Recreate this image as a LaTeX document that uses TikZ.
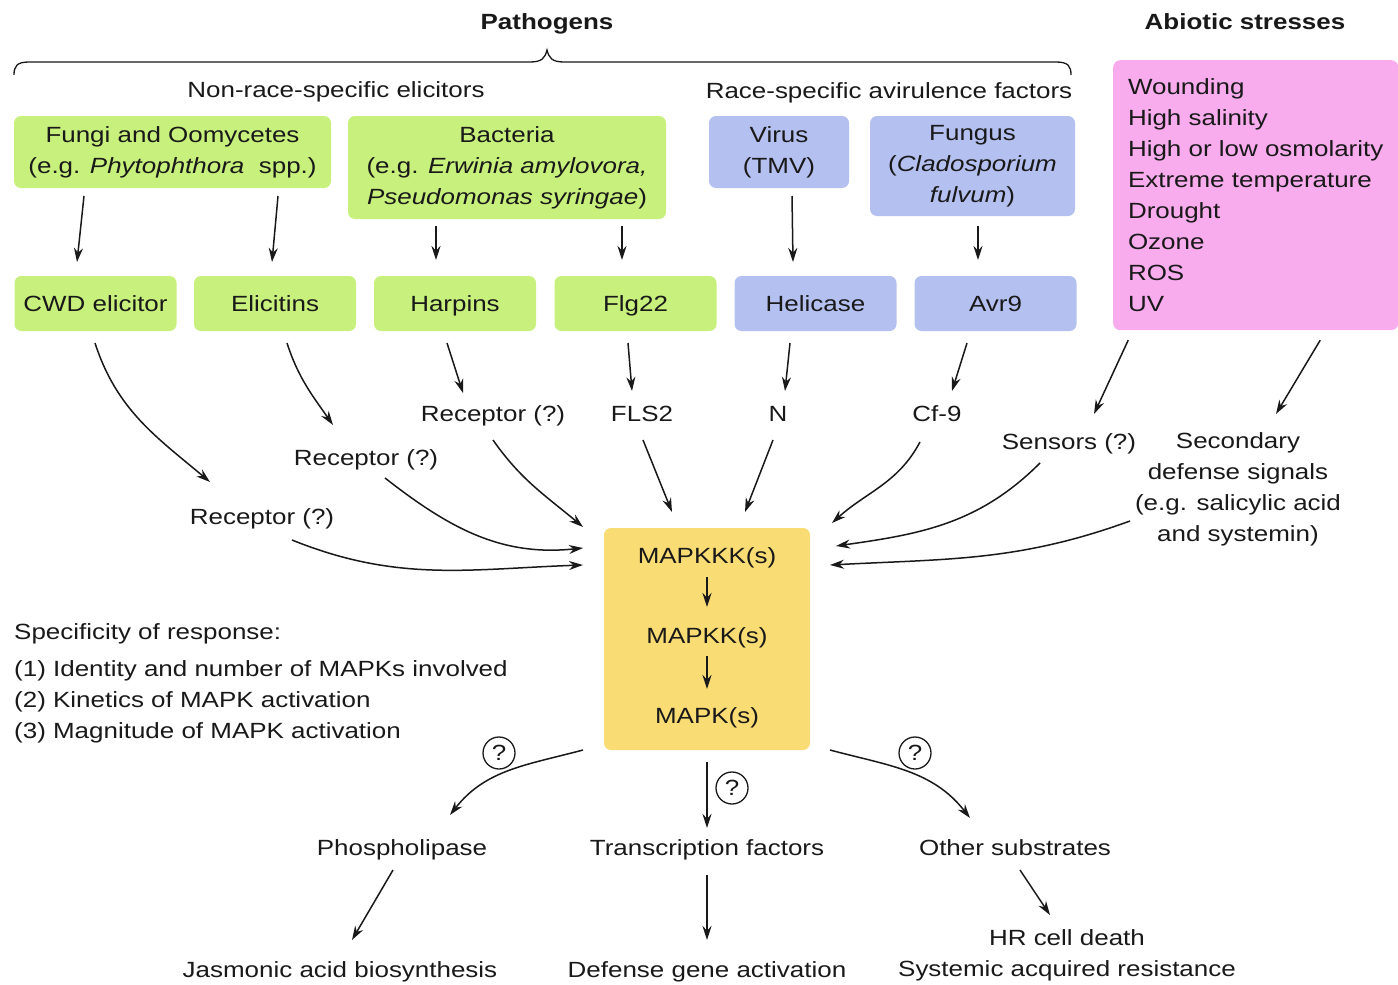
\documentclass[tikz,border=0pt]{standalone}
\usepackage{fontspec}
\setmainfont[FakeStretch=1.18]{Liberation Sans}
\usetikzlibrary{arrows.meta}
\definecolor{gcol}{RGB}{200,240,124}
\definecolor{bcol}{RGB}{180,192,240}
\definecolor{pcol}{RGB}{248,172,238}
\definecolor{ycol}{RGB}{250,220,116}
\definecolor{ink}{RGB}{25,25,25}
\begin{document}
\begin{tikzpicture}[x=1pt,y=1pt,font=\fontsize{22}{31}\selectfont,text=ink,
  boxbase/.style={rounded corners=7pt,inner sep=0pt,align=center},
  gb/.style={boxbase,fill=gcol},
  bb/.style={boxbase,fill=bcol},
  rowbox/.style={minimum width=162pt,minimum height=55pt,text height=18pt,text depth=2pt},
  lab/.style={inner sep=0pt,align=center},
  one/.style={lab,text height=18pt,text depth=2pt},
  arr/.style={draw=ink,line width=1.5pt,-{Stealth[length=14pt,width=9pt]}},
  qm/.style={circle,draw=ink,line width=1.3pt,minimum size=32pt,inner sep=0pt}]
\useasboundingbox (0,0) rectangle (1398,-985);

% titles
\node[one] (tpath) at (547,-21) {\textbf{Pathogens}};
\node[one] (tabio) at (1245,-21) {\textbf{Abiotic stresses}};
\draw[ink,line width=1.3pt] (14,-75) .. controls (14,-66) and (17,-62) .. (29,-62)
  -- (530,-62) .. controls (542,-62) and (545,-58) .. (547,-50)
  .. controls (549,-58) and (552,-62) .. (564,-62)
  -- (1056,-62) .. controls (1068,-62) and (1071,-66) .. (1071,-75);
\node[one] (tnon) at (336,-89) {Non-race-specific elicitors};
\node[one] (trace) at (889,-90) {Race-specific avirulence factors};

% pathogen boxes
\node[gb,minimum width=317pt,minimum height=72pt] (fungi) at (172.5,-152)
  {Fungi and Oomycetes\\(e.g. \textit{Phytophthora}\ \ spp.)};
\node[gb,minimum width=318pt,minimum height=103pt] (bact) at (507,-167.5)
  {Bacteria\\(e.g. \textit{Erwinia amylovora,}\\\textit{Pseudomonas syringae})};
\node[bb,minimum width=140pt,minimum height=72pt] (virus) at (779,-152)
  {Virus\\(TMV)};
\node[bb,minimum width=205pt,minimum height=100pt] (fungus) at (972.5,-166)
  {Fungus\\(\textit{Cladosporium}\\\textit{fulvum})};
\node[boxbase,fill=pcol,anchor=north west,minimum width=285pt,minimum height=270pt,align=left] (abio) at (1113,-60)
  {Wounding\\High salinity\\High or low osmolarity\\Extreme temperature\\Drought\\Ozone\\ROS\\UV};

% elicitor row
\node[gb,rowbox] (cwd) at (95.5,-303.5) {CWD elicitor};
\node[gb,rowbox] (eli) at (275,-303.5) {Elicitins};
\node[gb,rowbox] (harp) at (455,-303.5) {Harpins};
\node[gb,rowbox] (flg) at (635.5,-303.5) {Flg22};
\node[bb,rowbox] (heli) at (815.5,-303.5) {Helicase};
\node[bb,rowbox] (avr) at (995.5,-303.5) {Avr9};

% receptors
\node[one] (recA) at (493,-413) {Receptor (?)};
\node[one] (fls) at (642,-413) {FLS2};
\node[one] (nN) at (778,-413) {N};
\node[one] (cf) at (937,-413) {Cf-9};
\node[one] (recB) at (366,-457) {Receptor (?)};
\node[one] (recC) at (262,-516) {Receptor (?)};
\node[one] (sens) at (1069,-441) {Sensors (?)};
\node[lab] (second) at (1238,-489) {Secondary\\defense signals\\(e.g. salicylic acid\\and systemin)};

% MAPK cascade
\node[boxbase,fill=ycol,minimum width=206pt,minimum height=222pt] (mapk) at (707,-639) {};
\node[one] (kkk) at (707,-555) {MAPKKK(s)};
\node[one] (kk) at (707,-635) {MAPKK(s)};
\node[one] (k) at (707,-715) {MAPK(s)};

\node[lab,anchor=west,align=left] (spec) at (14,-683)
  {Specificity of response:\\[6pt](1) Identity and number of MAPKs involved\\(2) Kinetics of MAPK activation\\(3) Magnitude of MAPK activation};

% outputs
\node[qm] (q1) at (499,-753) {?};
\node[qm] (q2) at (732,-788) {?};
\node[qm] (q3) at (915,-753) {?};
\node[one] (phos) at (402,-847) {Phospholipase};
\node[one] (tf) at (707,-847) {Transcription factors};
\node[one] (oth) at (1015,-847) {Other substrates};
\node[one] (jas) at (340,-969) {Jasmonic acid biosynthesis};
\node[one] (dga) at (707,-969) {Defense gene activation};
\node[lab] (hr) at (1067,-955) {HR cell death\\Systemic acquired resistance};

% arrows: sources -> elicitors
\draw[arr] ([shift={(-88.5,-44)}]fungi.center) -- ([shift={(-18.5,41.5)}]cwd.center);
\draw[arr] ([shift={(105.5,-44)}]fungi.center) -- ([shift={(-3,41.5)}]eli.center);
\draw[arr] ([shift={(-71,-58.5)}]bact.center) -- ([shift={(-19,43.5)}]harp.center);
\draw[arr] ([shift={(115,-58.5)}]bact.center) -- ([shift={(-13.5,43.5)}]flg.center);
\draw[arr] ([shift={(13,-44)}]virus.center) -- ([shift={(-22.5,41.5)}]heli.center);
\draw[arr] ([shift={(5.5,-60)}]fungus.center) -- ([shift={(-17.5,43.5)}]avr.center);

% elicitors -> receptors
\draw[arr] ([shift={(-0.5,-39.5)}]cwd.center) to[out=-72,in=140] ([shift={(-52,34)}]recC.center);
\draw[arr] ([shift={(12,-39.5)}]eli.center) to[out=-72,in=125] ([shift={(-33,32)}]recB.center);
\draw[arr] ([shift={(-8,-39.5)}]harp.center) -- ([shift={(-30,20)}]recA.center);
\draw[arr] ([shift={(-7.5,-39.5)}]flg.center) -- ([shift={(-10,22)}]fls.center);
\draw[arr] ([shift={(-25.5,-39.5)}]heli.center) -- ([shift={(7,22)}]nN.center);
\draw[arr] ([shift={(-28.5,-39.5)}]avr.center) -- ([shift={(15,22)}]cf.center);
\draw[arr] ([shift={(-127.5,-145)}]abio.center) -- ([shift={(25,27)}]sens.center);
\draw[arr] ([shift={(64.5,-145)}]abio.center) -- ([shift={(38,75)}]second.center);

% receptors -> MAPK
\draw[arr] ([shift={(30,-24)}]recC.center) to[out=-22,in=182] ([shift={(-124,74)}]mapk.center);
\draw[arr] ([shift={(19,-21)}]recB.center) to[out=-38,in=186] ([shift={(-124,91)}]mapk.center);
\draw[arr] ([shift={(0,-27)}]recA.center) to[out=-55,in=140] ([shift={(-124,112)}]mapk.center);
\draw[arr] ([shift={(1,-27)}]fls.center) -- ([shift={(-35,127)}]mapk.center);
\draw[arr] ([shift={(-5,-27)}]nN.center) -- ([shift={(38,127)}]mapk.center);
\draw[arr] ([shift={(-17,-29)}]cf.center) to[out=-118,in=42] ([shift={(125,116)}]mapk.center);
\draw[arr] ([shift={(-29,-22)}]sens.center) to[out=-135,in=8] ([shift={(129,93)}]mapk.center);
\draw[arr] ([shift={(-108,-32)}]second.center) to[out=-160,in=3] ([shift={(123,74)}]mapk.center);

% inside cascade
\draw[arr] ([shift={(0,-22)}]kkk.center) -- ([shift={(0,28)}]kk.center);
\draw[arr] ([shift={(0,-21)}]kk.center) -- ([shift={(0,26)}]k.center);

% MAPK -> outputs
\draw[arr] ([shift={(-124,-111)}]mapk.center) to[out=195,in=52] ([shift={(48,32)}]phos.center);
\draw[arr] ([shift={(0,-123)}]mapk.center) -- ([shift={(0,19)}]tf.center);
\draw[arr] ([shift={(123,-111)}]mapk.center) to[out=-15,in=128] ([shift={(-45,29)}]oth.center);
\draw[arr] ([shift={(-9,-23)}]phos.center) -- ([shift={(12,29)}]jas.center);
\draw[arr] ([shift={(0,-28)}]tf.center) -- ([shift={(0,29)}]dga.center);
\draw[arr] ([shift={(5,-23)}]oth.center) -- ([shift={(-17,40)}]hr.center);
\end{tikzpicture}
\end{document}
